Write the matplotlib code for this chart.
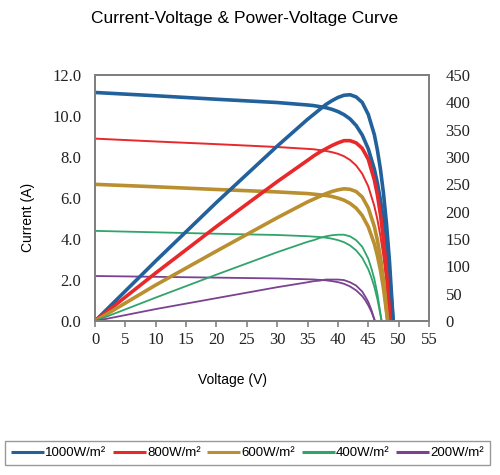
import numpy as np
import matplotlib
matplotlib.use('Agg')
import matplotlib.pyplot as plt

# ------------------------------------------------------------------
# Data (voltage V, current A, power W)
# ------------------------------------------------------------------
LABELS = ['1000W/m²', '800W/m²', '600W/m²', '400W/m²', '200W/m²']
COLORS = ['#22619c', '#e8292b', '#b98f2f', '#2fa46b', '#7b4290']

V_1000 = [0, 10, 20, 30, 35, 36, 37, 38, 39, 40, 41, 42, 43, 44, 45, 46, 46.5, 47, 47.5, 48, 48.5, 49.1]
I_1000 = [11.15, 10.99, 10.82, 10.66, 10.54, 10.51, 10.46, 10.41, 10.33, 10.22, 10.07, 9.86, 9.54,
          9.08, 8.40, 7.41, 6.74, 5.91, 4.92, 3.70, 2.22, 0]
P_1000 = [0, 110, 217, 320, 369, 378, 387, 396, 403, 409, 413, 414, 410,
          400, 378, 341, 313, 278, 234, 178, 108, 0]

V_800 = [0, 10, 20, 30, 35, 36, 37, 38, 39, 40, 41, 42, 43, 44, 45, 46, 46.5, 47, 47.5, 48, 48.6]
I_800 = [8.9, 8.76, 8.63, 8.49, 8.40, 8.38, 8.34, 8.30, 8.24, 8.16, 8.04, 7.86, 7.59,
         7.19, 6.57, 5.61, 4.96, 4.15, 3.14, 1.90, 0]
P_800 = [0, 88, 173, 255, 294, 302, 309, 315, 321, 326, 330, 330, 326,
         316, 296, 258, 231, 195, 149, 91, 0]

V_600 = [0, 10, 20, 30, 35, 36, 37, 38, 39, 40, 41, 42, 43, 44, 45, 46, 46.5, 47, 47.5, 48.2]
I_600 = [6.67, 6.55, 6.42, 6.30, 6.22, 6.19, 6.16, 6.13, 6.08, 6.00, 5.90, 5.74, 5.51,
         5.15, 4.60, 3.77, 3.19, 2.49, 1.60, 0]
P_600 = [0, 66, 128, 189, 218, 223, 228, 233, 237, 240, 242, 241, 237,
         227, 207, 173, 148, 117, 76, 0]

V_400 = [0, 10, 20, 30, 35, 36, 37, 38, 39, 40, 41, 42, 43, 44, 45, 45.5, 46, 46.5, 47.2]
I_400 = [4.40, 4.33, 4.26, 4.20, 4.14, 4.12, 4.10, 4.07, 4.02, 3.95, 3.85, 3.69, 3.45,
         3.09, 2.53, 2.14, 1.67, 1.07, 0]
P_400 = [0, 43, 85, 126, 145, 148, 152, 155, 157, 158, 158, 155, 148,
         136, 114, 97, 77, 50, 0]

V_200 = [0, 10, 20, 30, 35, 36, 37, 38, 39, 40, 41, 42, 43, 44, 44.5, 45, 45.5, 46.1]
I_200 = [2.2, 2.16, 2.12, 2.08, 2.04, 2.03, 2.01, 1.99, 1.95, 1.90, 1.82, 1.69, 1.50,
         1.22, 1.02, 0.77, 0.47, 0]
P_200 = [0, 22, 42, 62, 71, 73, 74, 76, 76, 76, 75, 71, 65,
         54, 45, 35, 21, 0]

# (voltage, current, power, current line width, power line width)
SERIES = [
    (V_1000, I_1000, P_1000, 2.6, 2.6),
    (V_800, I_800, P_800, 1.4, 2.6),
    (V_600, I_600, P_600, 2.6, 2.6),
    (V_400, I_400, P_400, 1.3, 1.3),
    (V_200, I_200, P_200, 1.3, 1.3),
]

SPINE = '#808080'

fig = plt.figure(figsize=(5.0, 4.75), dpi=100)
ax = fig.add_axes([0.19, 0.324, 0.668, 0.518])
ax2 = ax.twinx()

handles = []
for (v, i, p, lw_i, lw_p), col, lab in zip(SERIES, COLORS, LABELS):
    h, = ax.plot(v, i, color=col, lw=lw_i, solid_capstyle='round', solid_joinstyle='round')
    ax2.plot(v, p, color=col, lw=lw_p, solid_capstyle='round', solid_joinstyle='round')
    handles.append(h)

ax.set_xlim(0, 55)
ax.set_ylim(0, 12)
ax2.set_ylim(0, 450)
ax.set_xticks(np.arange(0, 56, 5))
ax.set_yticks(np.arange(0, 12.1, 2))
ax.set_yticklabels([f'{t:.1f}' for t in np.arange(0, 12.1, 2)])
ax2.set_yticks(np.arange(0, 451, 50))

serif = 'Liberation Serif'
for lbl in ax.get_xticklabels() + ax.get_yticklabels() + ax2.get_yticklabels():
    lbl.set_fontfamily(serif)
    lbl.set_fontsize(12)
    lbl.set_color('#222222')

ax.tick_params(axis='x', direction='out', length=4, width=1.2, color=SPINE, pad=4)
ax.tick_params(axis='y', length=0, pad=10)
ax2.tick_params(axis='y', length=0, pad=12)

for a in (ax, ax2):
    for s in a.spines.values():
        s.set_color(SPINE)
        s.set_linewidth(1.4)

fig.text(0.49, 0.962, 'Current-Voltage & Power-Voltage Curve', ha='center', va='center',
         fontsize=12.5, family='Liberation Sans')
fig.text(0.056, 0.543, 'Current (A)', rotation=90, ha='center', va='center',
         fontsize=10, family='Liberation Sans')
fig.text(0.466, 0.2, 'Voltage (V)', ha='center', va='center',
         fontsize=10, family='Liberation Sans')

leg = fig.legend(handles, LABELS, loc='center', bbox_to_anchor=(0.495, 0.0463), ncol=5,
                 frameon=True, fancybox=False, handlelength=2.5,
                 handletextpad=0.1, columnspacing=0.5, borderpad=0.45,
                 prop={'family': 'Liberation Sans', 'size': 9.5})
leg.get_frame().set_edgecolor(SPINE)
leg.get_frame().set_linewidth(1.0)
for ln in leg.get_lines():
    ln.set_linewidth(2.2)
    ln.set_solid_capstyle('butt')

fig.savefig('out.png', dpi=100)
